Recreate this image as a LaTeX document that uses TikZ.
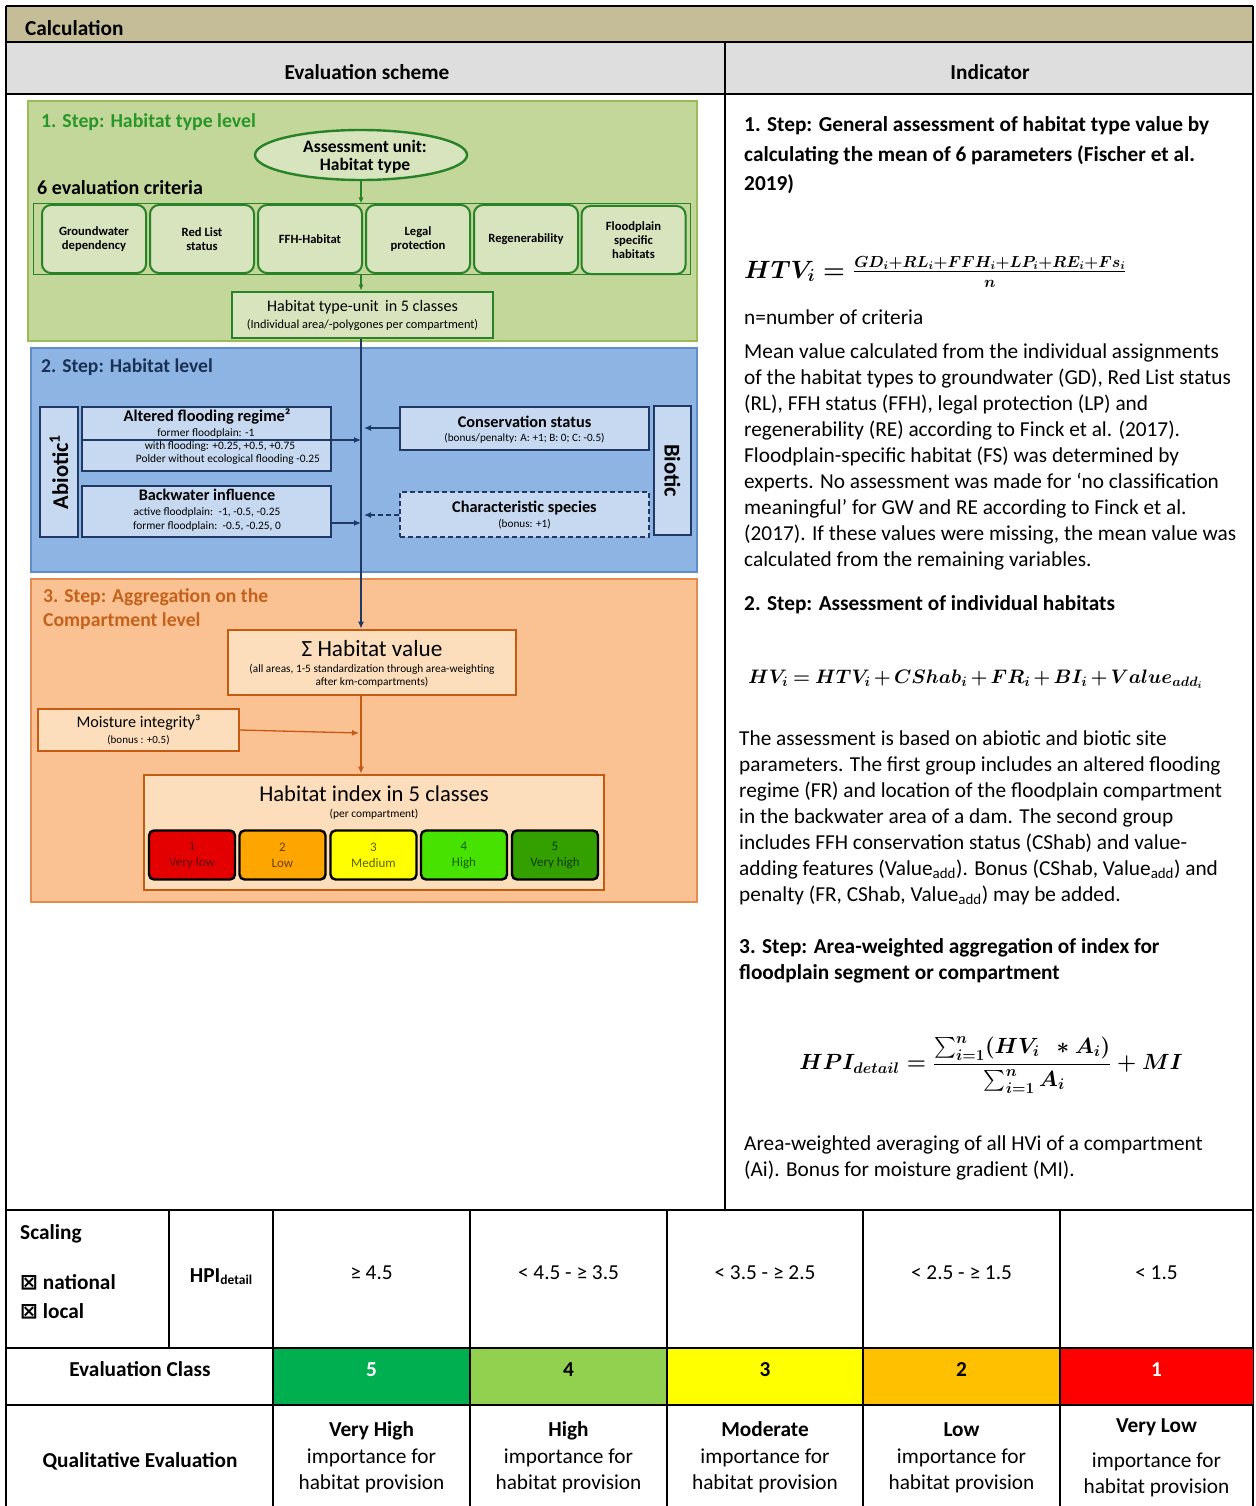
\RequirePackage{fix-cm}
\documentclass[tikz,border=0pt]{standalone}
\usepackage{amsmath}
\usepackage[no-math]{fontspec}
\setmainfont{Carlito}
\newfontfamily\symfont{DejaVu Sans}
\usetikzlibrary{shapes.geometric,arrows.meta}

\definecolor{calcband}{RGB}{196,189,151}
\definecolor{greyrow}{RGB}{222,222,222}
\definecolor{sOneFill}{RGB}{196,215,155}
\definecolor{sOneEdge}{RGB}{155,187,89}
\definecolor{sOneTitle}{RGB}{40,150,40}
\definecolor{sOneBox}{RGB}{215,228,189}
\definecolor{sOneLine}{RGB}{40,130,40}
\definecolor{sTwoFill}{RGB}{141,180,226}
\definecolor{sTwoEdge}{RGB}{96,140,200}
\definecolor{sTwoBox}{RGB}{198,217,241}
\definecolor{navy}{RGB}{31,56,100}
\definecolor{sThreeFill}{RGB}{250,194,146}
\definecolor{sThreeEdge}{RGB}{228,140,80}
\definecolor{sThreeTitle}{RGB}{196,98,28}
\definecolor{sThreeBox}{RGB}{253,222,188}
\definecolor{rust}{RGB}{197,90,17}
\definecolor{cRed}{RGB}{228,0,0}
\definecolor{cOrange}{RGB}{255,165,0}
\definecolor{cYellow}{RGB}{255,255,0}
\definecolor{cLime}{RGB}{72,226,0}
\definecolor{cGreen}{RGB}{52,160,0}
\definecolor{tRed}{RGB}{95,0,0}
\definecolor{tOrange}{RGB}{105,65,0}
\definecolor{tYellow}{RGB}{95,95,0}
\definecolor{tLime}{RGB}{20,95,0}
\definecolor{tGreen}{RGB}{12,60,0}
\definecolor{kFive}{RGB}{0,176,80}
\definecolor{kFour}{RGB}{146,208,80}
\definecolor{kThree}{RGB}{255,255,0}
\definecolor{kTwo}{RGB}{255,192,0}
\definecolor{kOne}{RGB}{255,0,0}

\newcommand\addsub{\textsubscript{add}}
\newcommand\fs[1]{\fontsize{#1}{#1}\selectfont}
% formulas of the indicator column
\newcommand\htvformula{\mbox{\boldmath$HTV_i = \frac{\mbox{\fs{16}\boldmath$GD_i{+}RL_i{+}FFH_i{+}LP_i{+}RE_i{+}Fs_i$}}{\mbox{\fs{16}\boldmath$n$}}$}}
\newcommand\hvformula{\mbox{\medmuskip=2.5mu\thickmuskip=4mu\boldmath$HV_i = HTV_i + CShab_i + FR_i + BI_i + Value_{add_i}$}}
\newcommand\hpiformula{\mbox{\boldmath$HPI_{detail} = \dfrac{\sum_{i=1}^{n}(HV_i\;\,*A_i)\rule[-6pt]{0pt}{6pt}}{\rule{0pt}{17pt}\sum_{i=1}^{n}A_i} + MI$}}

\begin{document}
\begin{tikzpicture}[x=1pt,y=-1pt,
  hdr/.style={inner sep=0pt, font=\fs{21.3}\bfseries},
  para/.style={anchor=west, inner sep=0pt, font=\fs{21.3}, text height=15pt, text depth=5pt},
  parab/.style={para, font=\fs{21.3}\bfseries},
  cell/.style={inner sep=0pt, font=\fs{21.3}, text height=15pt, text depth=5pt},
  cellb/.style={cell, font=\fs{21.3}\bfseries},
  lbl/.style={inner sep=0pt, align=center},
  critbox/.style={draw=sOneLine, line width=2pt, fill=sOneBox, rounded corners=9pt,
    minimum width=104pt, minimum height=68pt, inner sep=0pt, align=center,
    font=\fs{12.6}\bfseries},
  bluebox/.style={draw=navy, line width=1.4pt, fill=sTwoBox, inner sep=0pt},
  peachbox/.style={draw=rust, line width=2.6pt, fill=sThreeBox, inner sep=0pt},
  classbox/.style={draw=black, line width=2.4pt, rounded corners=5pt,
    minimum width=86pt, minimum height=49pt, inner sep=0pt, align=center,
    font=\fs{13}},
  garrow/.style={draw=sOneLine, line width=1.1pt, -{Latex[length=6pt,width=5pt]}},
  barrow/.style={draw=navy, line width=1.5pt, -{Latex[length=7pt,width=6pt]}},
  oarrow/.style={draw=rust, line width=1.3pt, -{Latex[length=7pt,width=6pt]}},
  longdash/.style={dash pattern=on 5pt off 3pt},
  rule/.style={draw=black, line width=1.5pt},
  thickrule/.style={draw=black, line width=2.6pt}
]
\useasboundingbox (0,0) rectangle (1255,1506);
\fill[white] (0,0) rectangle (1255,1506);

% ---------- header rows ----------
\fill[calcband] (6,6) rectangle (1253,42);
\fill[greyrow] (6,42) rectangle (1253,94);
\node[hdr, anchor=west] (calc) at (25,28) {Calculation};
\node[hdr] (evs) at (367,72) {Evaluation scheme};
\node[hdr] (ind) at (990,72) {Indicator};

% ---------- Step 1: habitat type level ----------
\draw[fill=sOneFill, draw=sOneEdge, line width=1.3pt] (28,101) rectangle (697,341);
\node[inner sep=0pt, anchor=west, font=\fs{19.8}\bfseries, text=sOneTitle] (t1) at (41,122)
  {1. Step: Habitat type level};
\node[ellipse, draw=sOneLine, line width=2.4pt, fill=sOneBox, minimum width=212pt,
  minimum height=50pt, inner sep=0pt] (au) at (361,155) {};
\node[lbl, font=\fs{17.5}\bfseries] (au1) at (365,146) {Assessment unit:};
\node[lbl, font=\fs{17.5}\bfseries] (au2) at (365,166) {Habitat type};
\coordinate (sp) at (361,155);
\node[inner sep=0pt, anchor=west, font=\fs{20}\bfseries] (crt) at (37,188) {6 evaluation criteria};
\node[draw=sOneLine, line width=1pt, minimum width=657pt, minimum height=70pt, inner sep=0pt]
  (crit) at (361.5,239) {};
\node[critbox] (c1) at (94,239) {Groundwater\\[2pt]dependency};
\node[critbox] (c2) at (202,239) {Red List\\[2pt]status};
\node[critbox] (c3) at (310,239) {FFH-Habitat};
\node[critbox] (c4) at (418,239) {Legal\\[2pt]protection};
\node[critbox] (c5) at (526,239) {Regenerability};
\node[critbox] (c6) at (633.5,240) {Floodplain\\[1.5pt]specific\\[1.5pt]habitats};
\node[draw=sOneLine, line width=2.8pt, fill=sOneBox, minimum width=261pt, minimum height=46pt,
  inner sep=0pt] (htu) at (362.5,315) {};
\node[lbl, font=\fs{16.1}] (htu1) at (362.5,307) {Habitat type-unit\, in 5 classes};
\node[lbl, font=\fs{12.3}] (htu2) at (362.5,325) {(Individual area/-polygones per compartment)};
\draw[garrow] (sp |- au.south) -- (sp |- crit.north);
\draw[garrow] (sp |- crit.south) -- (sp |- htu.north);

% ---------- Step 2: habitat level ----------
\draw[fill=sTwoFill, draw=sTwoEdge, line width=1.3pt] (31,348) rectangle (697,572);
\node[inner sep=0pt, anchor=west, font=\fs{19.6}\bfseries, text=navy!85!black] (t2) at (41,367)
  {2. Step: Habitat level};
\node[bluebox, minimum width=130pt, minimum height=38pt, rotate=90, font=\fs{22.5}\bfseries]
  (abi) at (59,472) {Abiotic\textsuperscript{1}};
\node[bluebox, minimum width=249pt, minimum height=64pt] (afr) at (206.5,439) {};
\node[lbl, font=\fs{16.4}\bfseries] (afrT) at (207,417) {Altered flooding regime²};
\node[lbl, font=\fs{11.4}] (afr1) at (206,433) {former floodplain: -1};
\node[lbl, font=\fs{11.4}] (afr2) at (220,447) {with flooding: +0.25, +0.5, +0.75};
\node[lbl, font=\fs{11.4}] (afr3) at (228,460) {Polder without ecological flooding -0.25};
\node[bluebox, minimum width=249pt, minimum height=51pt] (bwi) at (206.5,511.5) {};
\node[lbl, font=\fs{16.2}\bfseries] (bwiT) at (207,495) {Backwater influence};
\node[lbl, font=\fs{11.4}] (bwi1) at (207,512) {active floodplain:\, -1, -0.5, -0.25};
\node[lbl, font=\fs{11.4}] (bwi2) at (207,526) {former floodplain:\, -0.5, -0.25, 0};
\node[bluebox, minimum width=249pt, minimum height=43pt] (cs) at (524.5,428.5) {};
\node[lbl, font=\fs{16.3}\bfseries] (csT) at (524.5,422) {Conservation status};
\node[lbl, font=\fs{11.2}] (cs1) at (524.5,438) {(bonus/penalty: A: +1; B: 0; C: -0.5)};
\node[bluebox, longdash, minimum width=249pt, minimum height=45pt] (chs) at (524.5,514.5) {};
\node[lbl, font=\fs{16.3}\bfseries] (chsT) at (524.5,508) {Characteristic species};
\node[lbl, font=\fs{11.2}] (chs1) at (524.5,524) {(bonus: +1)};
\node[bluebox, minimum width=129pt, minimum height=37pt, rotate=-90, font=\fs{22.5}\bfseries]
  (bio) at (672.5,470.5) {Biotic};
\coordinate (j1) at (361,440);
\coordinate (j2) at (361,523);
\coordinate (j3) at (364,428);
\coordinate (j4) at (364,515);
\draw[navy, line width=1.2pt] (afr.west |- j1) -- (afr.east |- j1);
\draw[barrow] (afr.east |- j1) -- (j1);
\draw[barrow] (bwi.east |- j2) -- (j2);
\draw[barrow] (cs.west |- j3) -- (j3);
\draw[barrow, longdash] (chs.west |- j4) -- (j4);

% ---------- Step 3: compartment level ----------
\draw[fill=sThreeFill, draw=sThreeEdge, line width=1.3pt] (31,579) rectangle (697,902);
\node[inner sep=0pt, anchor=west, font=\fs{19.7}\bfseries, text=sThreeTitle] (t3a)
  at (43,597) {3. Step: Aggregation on the};
\node[inner sep=0pt, anchor=west, font=\fs{19.7}\bfseries, text=sThreeTitle] (t3b)
  at (43,621) {Compartment level};
\node[peachbox, minimum width=288pt, minimum height=65pt] (hv) at (372,662.5) {};
\node[lbl, font=\fs{23.2}] (hvT) at (372,649) {Σ Habitat value};
\node[lbl, font=\fs{11.3}] (hv1) at (372,669) {(all areas, 1-5 standardization through area-weighting};
\node[lbl, font=\fs{11.3}] (hv2) at (372,682) {after km-compartments)};
\node[draw=rust, line width=1.3pt, fill=sThreeBox, minimum width=201pt, minimum height=42pt,
  inner sep=0pt] (mi) at (138.5,730) {};
\node[lbl, font=\fs{16.2}] (miT) at (138.5,723) {Moisture integrity³};
\node[lbl, font=\fs{11}] (mi1) at (138.5,740) {(bonus : +0.5)};
\node[peachbox, minimum width=460pt, minimum height=115pt] (hix) at (374,832.5) {};
\node[lbl, font=\fs{22.6}] (hixT) at (374,794) {Habitat index in 5 classes};
\node[lbl, font=\fs{11.4}] (hix1) at (374,814) {(per compartment)};
\node[classbox, fill=cRed, text=tRed] (k1) at (192,855) {1\\[3pt]Very low};
\node[classbox, fill=cOrange, text=tOrange] (k2) at (282.5,855) {2\\[3pt]Low};
\node[classbox, fill=cYellow, text=tYellow] (k3) at (373.5,855) {3\\[3pt]Medium};
\node[classbox, fill=cLime, text=tLime] (k4) at (464,855) {4\\[3pt]High};
\node[classbox, fill=cGreen, text=tGreen] (k5) at (555,855) {5\\[3pt]Very high};
\coordinate (j5) at (359,733);
\draw[oarrow] (sp |- hv.south) -- (sp |- hix.north);
\draw[oarrow] (mi.east) -- (j5);
% main flow from step 1 down to the compartment sum
\draw[barrow] (sp |- htu.south) -- (sp |- hv.north);

% ---------- indicator column ----------
\node[parab] (s1a) at (744,127) {1. Step: General assessment of habitat type value by};
\node[parab] (s1b) at (744,157) {calculating the mean of 6 parameters (Fischer et al.};
\node[parab] (s1c) at (744,186) {2019)};
\node[inner sep=0pt, anchor=west, font=\fs{25}] (fHTV) at (744,272) {\htvformula};
\node[para] (nn) at (744,319) {n=number of criteria};
\node[para] (p1) at (744,353) {Mean value calculated from the individual assignments};
\node[para] (p2) at (744,379) {of the habitat types to groundwater (GD), Red List status};
\node[para] (p3) at (744,405) {(RL), FFH status (FFH), legal protection (LP) and};
\node[para] (p4) at (744,431) {regenerability (RE) according to Finck et al. (2017).};
\node[para] (p5) at (744,457) {Floodplain-specific habitat (FS) was determined by};
\node[para] (p6) at (744,483) {experts. No assessment was made for ‘no classification};
\node[para] (p7) at (744,509) {meaningful’ for GW and RE according to Finck et al.};
\node[para] (p8) at (744,535) {(2017). If these values were missing, the mean value was};
\node[para] (p9) at (744,561) {calculated from the remaining variables.};
\node[parab] (s2) at (744,605) {2. Step: Assessment of individual habitats};
\node[inner sep=0pt, anchor=west, font=\fs{19.5}] (fHV) at (748,679) {\hvformula};
\node[para] (q1) at (739,740) {The assessment is based on abiotic and biotic site};
\node[para] (q2) at (739,766) {parameters. The first group includes an altered flooding};
\node[para] (q3) at (739,792) {regime (FR) and location of the floodplain compartment};
\node[para] (q4) at (739,818) {in the backwater area of a dam. The second group};
\node[para] (q5) at (739,844) {includes FFH conservation status (CShab) and value-};
\node[para] (q6) at (739,870) {adding features (Value\addsub). Bonus (CShab, Value\addsub) and};
\node[para] (q7) at (739,896) {penalty (FR, CShab, Value\addsub) may be added.};
\node[parab] (s3a) at (739,948) {3. Step: Area-weighted aggregation of index for};
\node[parab] (s3b) at (739,974) {floodplain segment or compartment};
\node[inner sep=0pt, font=\fs{22}] (fHPI) at (991,1065) {\hpiformula};
\node[para] (r1) at (744,1145) {Area-weighted averaging of all HVi of a compartment};
\node[para] (r2) at (744,1171) {(Ai). Bonus for moisture gradient (MI).};

% ---------- frame lines ----------
\draw[rule] (6,42) -- (1253,42);
\draw[rule] (6,94) -- (1253,94);
\draw[rule] (725,42) -- (725,1210);
\draw[rule] (6,6) -- (1253,6);
\draw[rule] (6,6) -- (6,1506);
\draw[rule] (1253,6) -- (1253,1506);

% ---------- scaling table ----------
\fill[kFive] (273,1348) rectangle (470,1405);
\fill[kFour] (470,1348) rectangle (667,1405);
\fill[kThree] (667,1348) rectangle (863,1405);
\fill[kTwo] (863,1348) rectangle (1060,1405);
\fill[kOne] (1060,1348) rectangle (1253,1405);
\draw[thickrule] (6,1210) -- (1253,1210);
\draw[rule] (6,1348) -- (1253,1348);
\draw[rule] (6,1405) -- (1253,1405);
\draw[rule] (169,1210) -- (169,1348);
\foreach \cx in {273,470,667,863,1060} \draw[rule] (\cx,1210) -- (\cx,1506);

\node[cellb, anchor=west] (sc) at (20,1234) {Scaling};
\node[cellb, anchor=west] (nat) at (20,1284) {{\symfont\bfseries ⊠} national};
\node[cellb, anchor=west] (loc) at (20,1313) {{\symfont\bfseries ⊠} local};
\node[cellb] (hpi) at (221,1277) {HPI\raisebox{-2pt}{\fs{13.5}detail}};
\node[cell] (v5) at (371.5,1274) {≥ 4.5};
\node[cell] (v4) at (568.5,1274) {< 4.5 - ≥ 3.5};
\node[cell] (v3) at (765,1274) {< 3.5 - ≥ 2.5};
\node[cell] (v2) at (961.5,1274) {< 2.5 - ≥ 1.5};
\node[cell] (v1) at (1156.5,1274) {< 1.5};

\node[cellb] (ec) at (140,1371) {Evaluation Class};
\node[cellb, text=white] (e5) at (371.5,1371) {5};
\node[cellb] (e4) at (568.5,1371) {4};
\node[cellb] (e3) at (765,1371) {3};
\node[cellb] (e2) at (961.5,1371) {2};
\node[cellb, text=white] (e1) at (1156.5,1371) {1};

\node[cellb] (qe) at (140,1462) {Qualitative Evaluation};
\foreach \nm/\cx/\ttl in {q5/371.5/Very High, q4/568.5/High, q3/765/Moderate, q2/961.5/Low}{
  \node[cellb] (\nm t) at (\cx,1431) {\ttl};
  \node[cell] (\nm a) at (\cx,1458) {importance for};
  \node[cell] (\nm b) at (\cx,1484) {habitat provision};
}
\node[cellb] (q1t) at (1156.5,1427) {Very Low};
\node[cell] (q1a) at (1156.5,1462) {importance for};
\node[cell] (q1b) at (1156.5,1488) {habitat provision};
\end{tikzpicture}
\end{document}
